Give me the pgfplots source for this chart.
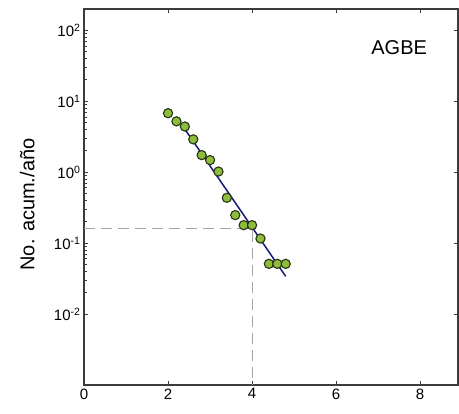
\documentclass[border=0pt]{standalone}
\usepackage{fontspec}
\setmainfont{Liberation Sans}
\usepackage{pgfplots}
\pgfplotsset{compat=1.18}
\definecolor{ptgreen}{RGB}{140,190,60}
\definecolor{ptedge}{RGB}{40,50,20}
\definecolor{linenavy}{RGB}{25,25,125}
\definecolor{framegray}{RGB}{60,60,60}
\definecolor{dashgray}{RGB}{165,165,165}
\begin{document}
\begin{tikzpicture}
\begin{semilogyaxis}[
  scale only axis, width=374pt, height=376pt,
  xmin=0, xmax=8.9, ymin=1e-3, ymax=199.5,
  xtick={0,2,4,6,8},
  ytick={0.01,0.1,1,10,100},
  yticklabels={10\textsuperscript{-2},10\textsuperscript{-1},10\textsuperscript{0},10\textsuperscript{1},10\textsuperscript{2}},
  tick label style={font=\fontsize{15}{17}\selectfont},
  /pgf/number format/assume math mode=true,
  tick align=inside,
  ytick pos=left,
  axis line style={framegray, line width=1.1pt},
  major tick length=4pt, minor tick length=3pt,
  every tick/.style={framegray, line width=0.8pt},
  ylabel={No. acum./año},
  ylabel style={font=\fontsize{20}{22}\selectfont, at={(axis description cs:-0.152,0.48)}, anchor=center},
  clip=false,
]
\addplot[dashgray, line width=1.1pt, dash pattern=on 11pt off 6pt] coordinates {(0,0.16) (4,0.16) (4,0.001)};
\addplot[linenavy, line width=1.5pt] coordinates {(2.4,4.04) (4.8,0.034)};
\addplot[only marks, mark=*, mark size=4.6pt, mark options={fill=ptgreen, draw=ptedge, line width=1.1pt}] coordinates {
(2.0,6.78) (2.2,5.2) (2.4,4.4) (2.6,2.9) (2.8,1.74) (3.0,1.48) (3.2,1.02)
(3.4,0.435) (3.6,0.248) (3.8,0.179) (4.0,0.179) (4.2,0.116)
(4.4,0.051) (4.6,0.051) (4.8,0.051)};
\node[font=\fontsize{20}{22}\selectfont] at (axis cs:7.5,57) {AGBE};
\end{semilogyaxis}
\begin{semilogyaxis}[
  scale only axis, width=374pt, height=376pt,
  xmin=0, xmax=8.9, ymin=1e-3, ymax=199.5,
  hide x axis, axis y line*=right,
  y axis line style={draw=none},
  ytick={0.01,0.1,1,10,100}, yticklabels={},
  yminorticks=false,
  tick align=inside, major tick length=4pt,
  every tick/.style={framegray, line width=0.8pt},
]
\end{semilogyaxis}
\pgfresetboundingbox
\path (-84pt,-29pt) rectangle (375pt,385pt);
\end{tikzpicture}
\end{document}
